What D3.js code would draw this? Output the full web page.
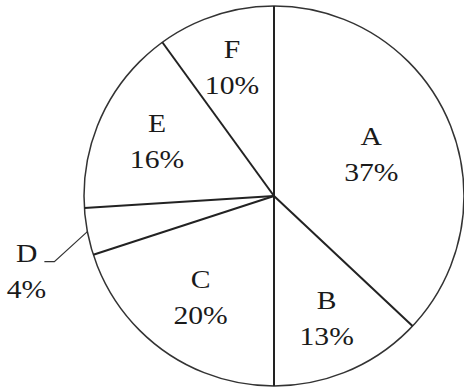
<!DOCTYPE html>
<html>
<head>
<meta charset="utf-8">
<script src="https://cdn.jsdelivr.net/npm/d3@7/dist/d3.min.js"></script>
<style>
	body { margin: 0; background: #fff; }
	svg { display: block; }
	text { font-family: "Liberation Serif", "Times New Roman", serif; fill: #1a1a1a; }
</style>
</head>
<body>
<script>
// chart data
const categories = ['A', 'B', 'C', 'D', 'E', 'F'];
const values = [37, 13, 20, 4, 16, 10];
const valueLabels = ['37%', '13%', '20%', '4%', '16%', '10%'];

const width = 464, height = 390;
const cx = 274, cy = 196, radius = 190;
const fontSize = 26;
const stretch = 1.14; // glyphs in the reference are a bit wider than normal

const svg = d3.select('body')
	.append('svg')
	.attr('width', width)
	.attr('height', height);

const g = svg.append('g')
	.attr('transform', `translate(${cx},${cy})`);

const items = categories.map((c, i) => ({name: c, value: values[i], label: valueLabels[i]}));

const pie = d3.pie()
	.sort(null)
	.value(d => d.value);

const arcs = pie(items);

const arc = d3.arc()
	.innerRadius(0)
	.outerRadius(radius);

// slice fills (white), borders drawn separately
g.selectAll('path.slice')
	.data(arcs)
	.enter()
	.append('path')
	.attr('class', 'slice')
	.attr('d', arc)
	.attr('fill', '#fff');

// outer circle
g.append('circle')
	.attr('r', radius)
	.attr('fill', 'none')
	.attr('stroke', '#333')
	.attr('stroke-width', 1.5);

// radial separators at each slice start
g.selectAll('line.sep')
	.data(arcs)
	.enter()
	.append('line')
	.attr('class', 'sep')
	.attr('x1', 0)
	.attr('y1', 0)
	.attr('x2', d => radius * Math.sin(d.startAngle))
	.attr('y2', d => -radius * Math.cos(d.startAngle))
	.attr('stroke', '#222')
	.attr('stroke-width', 2);

// bigger slices carry their label nearer the centre
const labelR = d3.scaleLinear().domain([10, 37]).range([136, 106]);
const smallLimit = 5;

const midAngle = d => (d.startAngle + d.endAngle) / 2;

function addLabel(parent, x, y, anchor, name, value, valueX) {
	parent.append('text')
		.attr('transform', `translate(${x},${y - 9}) scale(${stretch},1)`)
		.attr('text-anchor', anchor)
		.style('font-size', fontSize + 'px')
		.text(name);
	parent.append('text')
		.attr('transform', `translate(${valueX},${y + 27}) scale(${stretch},1)`)
		.attr('text-anchor', 'middle')
		.style('font-size', fontSize + 'px')
		.text(value);
}

arcs.filter(d => d.data.value >= smallLimit).forEach(d => {
	const a = midAngle(d);
	const r = labelR(d.data.value);
	const x = r * Math.sin(a);
	const y = -r * Math.cos(a);
	addLabel(g, x, y, 'middle', d.data.name, d.data.label, x);
});

// small slices: label outside with leader line
arcs.filter(d => d.data.value < smallLimit).forEach(d => {
	const a = midAngle(d);
	const ex = radius * Math.sin(a);
	const ey = -radius * Math.cos(a);
	const kx = ex - 33, ky = ey + 30;
	g.append('polyline')
		.attr('points', `${ex},${ey} ${kx},${ky} ${kx - 10},${ky}`)
		.attr('fill', 'none')
		.attr('stroke', '#333')
		.attr('stroke-width', 1.2);
	addLabel(g, kx - 17, ky + 9, 'end', d.data.name, d.data.label, kx - 28);
});
</script>
</body>
</html>
